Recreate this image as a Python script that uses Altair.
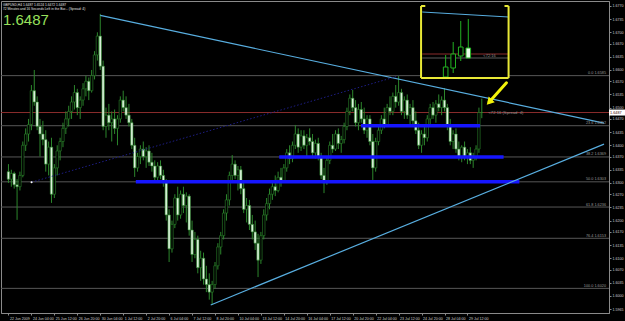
import json
import altair as alt
import pandas as pd

# ---------------- data (GBPUSD, H4) ----------------
OPEN = [
1.6330, 1.6310, 1.6325, 1.6295, 1.6290, 1.6320, 1.6400, 1.6430, 1.6455, 1.6545,
1.6515, 1.6450, 1.6430, 1.6415, 1.6350, 1.6395, 1.6270, 1.6340, 1.6385, 1.6410,
1.6445, 1.6470, 1.6490, 1.6515, 1.6540, 1.6500, 1.6520, 1.6550, 1.6570, 1.6545,
1.6585, 1.6640, 1.6690, 1.6610, 1.6450, 1.6480, 1.6460, 1.6470, 1.6445, 1.6470,
1.6520, 1.6500, 1.6480, 1.6460, 1.6400, 1.6340, 1.6370, 1.6390, 1.6370, 1.6385,
1.6355, 1.6345, 1.6315, 1.6345, 1.6320, 1.6300, 1.6215, 1.6125, 1.6190, 1.6260,
1.6215, 1.6270, 1.6240, 1.6265, 1.6175, 1.6110, 1.6150, 1.6075, 1.6100, 1.6045,
1.6030, 1.6010, 1.6030, 1.6080, 1.6130, 1.6160, 1.6220, 1.6255, 1.6320, 1.6350,
1.6320, 1.6335, 1.6285, 1.6230, 1.6240, 1.6190, 1.6170, 1.6140, 1.6095, 1.6160,
1.6215, 1.6245, 1.6270, 1.6290, 1.6280, 1.6315, 1.6305, 1.6340, 1.6380, 1.6365,
1.6400, 1.6430, 1.6395, 1.6425, 1.6400, 1.6420, 1.6410, 1.6380, 1.6405, 1.6370,
1.6320, 1.6300, 1.6360, 1.6400, 1.6390, 1.6430, 1.6405, 1.6415, 1.6450, 1.6490,
1.6525, 1.6500, 1.6460, 1.6495, 1.6470, 1.6440, 1.6470, 1.6410, 1.6340, 1.6410,
1.6440, 1.6470, 1.6455, 1.6500, 1.6490, 1.6530, 1.6515, 1.6540, 1.6490, 1.6520,
1.6480, 1.6500, 1.6465, 1.6440, 1.6400, 1.6430, 1.6420, 1.6470, 1.6500, 1.6480,
1.6510, 1.6500, 1.6520, 1.6500, 1.6450, 1.6410, 1.6430, 1.6390, 1.6370, 1.6395,
1.6370, 1.6380, 1.6360, 1.6370, 1.6390, 1.6487]

HIGH = [
1.6350, 1.6335, 1.6330, 1.6310, 1.6330, 1.6410, 1.6445, 1.6470, 1.6560, 1.6600,
1.6530, 1.6470, 1.6465, 1.6440, 1.6410, 1.6420, 1.6350, 1.6400, 1.6420, 1.6460,
1.6490, 1.6505, 1.6530, 1.6560, 1.6550, 1.6530, 1.6565, 1.6585, 1.6580, 1.6600,
1.6650, 1.6700, 1.6749, 1.6625, 1.6500, 1.6510, 1.6490, 1.6495, 1.6480, 1.6530,
1.6545, 1.6530, 1.6510, 1.6470, 1.6420, 1.6380, 1.6400, 1.6410, 1.6395, 1.6400,
1.6380, 1.6360, 1.6355, 1.6360, 1.6335, 1.6310, 1.6230, 1.6200, 1.6270, 1.6290,
1.6280, 1.6290, 1.6275, 1.6270, 1.6200, 1.6170, 1.6160, 1.6120, 1.6115, 1.6080,
1.6060, 1.6040, 1.6090, 1.6140, 1.6170, 1.6230, 1.6270, 1.6330, 1.6374, 1.6360,
1.6345, 1.6345, 1.6300, 1.6260, 1.6255, 1.6215, 1.6200, 1.6165, 1.6170, 1.6230,
1.6260, 1.6285, 1.6300, 1.6320, 1.6330, 1.6340, 1.6350, 1.6390, 1.6400, 1.6410,
1.6454, 1.6445, 1.6440, 1.6440, 1.6430, 1.6445, 1.6430, 1.6415, 1.6420, 1.6380,
1.6340, 1.6370, 1.6410, 1.6430, 1.6440, 1.6445, 1.6425, 1.6460, 1.6500, 1.6535,
1.6547, 1.6520, 1.6510, 1.6515, 1.6500, 1.6480, 1.6480, 1.6430, 1.6420, 1.6450,
1.6480, 1.6500, 1.6510, 1.6530, 1.6540, 1.6560, 1.6584, 1.6550, 1.6530, 1.6535,
1.6510, 1.6520, 1.6490, 1.6460, 1.6440, 1.6450, 1.6480, 1.6510, 1.6515, 1.6520,
1.6535, 1.6530, 1.6552, 1.6510, 1.6470, 1.6440, 1.6445, 1.6410, 1.6400, 1.6410,
1.6390, 1.6395, 1.6380, 1.6400, 1.6500, 1.6524]

LOW = [
1.6300, 1.6290, 1.6285, 1.6202, 1.6280, 1.6315, 1.6385, 1.6410, 1.6440, 1.6505,
1.6440, 1.6370, 1.6400, 1.6330, 1.6320, 1.6247, 1.6260, 1.6320, 1.6360, 1.6395,
1.6430, 1.6450, 1.6470, 1.6495, 1.6480, 1.6470, 1.6505, 1.6530, 1.6520, 1.6540,
1.6575, 1.6625, 1.6600, 1.6440, 1.6420, 1.6440, 1.6410, 1.6430, 1.6400, 1.6460,
1.6490, 1.6470, 1.6450, 1.6390, 1.6316, 1.6330, 1.6350, 1.6360, 1.6340, 1.6345,
1.6330, 1.6300, 1.6305, 1.6310, 1.6290, 1.6200, 1.6090, 1.6115, 1.6180, 1.6200,
1.6205, 1.6220, 1.6195, 1.6160, 1.6090, 1.6100, 1.6060, 1.6040, 1.6030, 1.6010,
1.5990, 1.5976, 1.6020, 1.6070, 1.6110, 1.6150, 1.6200, 1.6240, 1.6300, 1.6310,
1.6280, 1.6270, 1.6220, 1.6195, 1.6175, 1.6150, 1.6122, 1.6050, 1.6085, 1.6150,
1.6200, 1.6230, 1.6255, 1.6265, 1.6275, 1.6290, 1.6300, 1.6330, 1.6350, 1.6355,
1.6390, 1.6380, 1.6385, 1.6390, 1.6370, 1.6400, 1.6370, 1.6365, 1.6360, 1.6310,
1.6273, 1.6295, 1.6350, 1.6380, 1.6385, 1.6390, 1.6380, 1.6405, 1.6440, 1.6480,
1.6490, 1.6450, 1.6440, 1.6460, 1.6430, 1.6420, 1.6400, 1.6308, 1.6330, 1.6400,
1.6430, 1.6445, 1.6450, 1.6480, 1.6480, 1.6500, 1.6505, 1.6480, 1.6470, 1.6470,
1.6450, 1.6455, 1.6430, 1.6390, 1.6380, 1.6400, 1.6410, 1.6455, 1.6470, 1.6460,
1.6490, 1.6480, 1.6490, 1.6440, 1.6400, 1.6390, 1.6380, 1.6360, 1.6355, 1.6360,
1.6350, 1.6350, 1.6340, 1.6360, 1.6380, 1.6472]

CLOSE = [
1.6310, 1.6325, 1.6295, 1.6290, 1.6320, 1.6400, 1.6430, 1.6455, 1.6545, 1.6515,
1.6450, 1.6430, 1.6415, 1.6350, 1.6395, 1.6270, 1.6340, 1.6385, 1.6410, 1.6445,
1.6470, 1.6490, 1.6515, 1.6540, 1.6500, 1.6520, 1.6550, 1.6570, 1.6545, 1.6585,
1.6640, 1.6690, 1.6610, 1.6450, 1.6480, 1.6460, 1.6470, 1.6445, 1.6470, 1.6520,
1.6500, 1.6480, 1.6460, 1.6400, 1.6340, 1.6370, 1.6390, 1.6370, 1.6385, 1.6355,
1.6345, 1.6315, 1.6345, 1.6320, 1.6300, 1.6215, 1.6125, 1.6190, 1.6260, 1.6215,
1.6270, 1.6240, 1.6265, 1.6175, 1.6110, 1.6150, 1.6075, 1.6100, 1.6045, 1.6030,
1.6010, 1.6030, 1.6080, 1.6130, 1.6160, 1.6220, 1.6255, 1.6320, 1.6350, 1.6320,
1.6335, 1.6285, 1.6230, 1.6240, 1.6190, 1.6170, 1.6140, 1.6095, 1.6160, 1.6215,
1.6245, 1.6270, 1.6290, 1.6280, 1.6315, 1.6305, 1.6340, 1.6380, 1.6365, 1.6400,
1.6430, 1.6395, 1.6425, 1.6400, 1.6420, 1.6410, 1.6380, 1.6405, 1.6370, 1.6320,
1.6300, 1.6360, 1.6400, 1.6390, 1.6430, 1.6405, 1.6415, 1.6450, 1.6490, 1.6525,
1.6500, 1.6460, 1.6495, 1.6470, 1.6440, 1.6470, 1.6410, 1.6340, 1.6410, 1.6440,
1.6470, 1.6455, 1.6500, 1.6490, 1.6530, 1.6515, 1.6540, 1.6490, 1.6520, 1.6480,
1.6500, 1.6465, 1.6440, 1.6400, 1.6430, 1.6420, 1.6470, 1.6500, 1.6480, 1.6510,
1.6500, 1.6520, 1.6500, 1.6450, 1.6410, 1.6430, 1.6390, 1.6370, 1.6395, 1.6370,
1.6380, 1.6360, 1.6370, 1.6390, 1.6487, 1.6487]

TICK_BARS = [0, 8, 16, 24, 32, 40, 48, 56, 64, 72, 80, 88, 96, 104, 112, 120, 128, 136, 144, 152, 160]
DATE_LABELS = ["22 Jun 2009", "24 Jun 04:00", "25 Jun 12:00", "26 Jun 20:00", "30 Jun 04:00",
               "1 Jul 12:00", "2 Jul 20:00", "6 Jul 04:00", "7 Jul 12:00", "8 Jul 20:00",
               "10 Jul 04:00", "13 Jul 12:00", "14 Jul 20:00", "16 Jul 04:00", "17 Jul 12:00",
               "20 Jul 20:00", "22 Jul 04:00", "23 Jul 12:00", "24 Jul 20:00", "28 Jul 04:00",
               "29 Jul 12:00"]
PRICE_TICKS = [1.6770, 1.6735, 1.6700, 1.6670, 1.6635, 1.6600, 1.6570, 1.6535, 1.6500, 1.6470,
               1.6435, 1.6400, 1.6370, 1.6335, 1.6300, 1.6270, 1.6235, 1.6200, 1.6170, 1.6135,
               1.6100, 1.6070, 1.6035, 1.6000, 1.5965]

CURRENT = 1.6487
FIB_LEVELS = ["0.0", "23.6", "38.2", "50.0", "61.8", "76.4", "100.0"]
FIB_PRICES = [1.6585, 1.6452, 1.6369, 1.6303, 1.6236, 1.6153, 1.6020]

BLUE_FROM = [122.9, 94.4, 44.4]
BLUE_TO = [164.4, 172.6, 178.1]
BLUE_PRICE = [1.6452, 1.6369, 1.6303]

TREND_BAR1 = [32.0, 70.5]
TREND_P1 = [1.6745, 1.5976]
TREND_BAR2 = [207.6, 207.6]
TREND_P2 = [1.6459, 1.6403]

DOT_BAR = [8.06, 135.9]
DOT_P = [1.6302, 1.6584]

ARROW_BAR = [173.6, 167.6]
ARROW_P = [1.6566, 1.6515]

HEADER_1 = "GBPUSD,H4  1.6487 1.6524 1.6472 1.6487"
HEADER_2 = "72 Minutes and 16 Seconds Left in the Bar... (Spread: 4)"
SPREAD_TEXT = "<72:16 (Spread: 4)"

# inset (magnified view of the last bars)
INSET_BAR = [0, 1, 2, 3]
INSET_O = [1.6464, 1.6473, 1.6485, 1.6493]
INSET_H = [1.6486, 1.6499, 1.6520, 1.6522]
INSET_L = [1.6463, 1.6468, 1.6480, 1.6483]
INSET_C = [1.6474, 1.6487, 1.6494, 1.6483]

# ---------------- styling ----------------
GREEN = "#2c862c"
FONT = "Liberation Sans"
W, H = 608, 312
xs = alt.Scale(domain=[-0.857, 207.6], nice=False, zero=False)
ys = alt.Scale(domain=[1.59546, 1.67832], nice=False, zero=False)

AX = dict(labelColor="#d0d0d0", labelFont=FONT, labelFontSize=3.6, tickColor="#8a8a8a",
          domainColor="#8a8a8a", tickSize=2, labelPadding=1, grid=False, title=None,
          labelOverlap=False, labelFlush=False, labelBound=False)
xaxis = alt.Axis(values=TICK_BARS, labelExpr=json.dumps(DATE_LABELS) + "[round(datum.value / 8)]",
                 labelAlign="left", labelOffset=1, **AX)
yaxis = alt.Axis(orient="right", values=PRICE_TICKS, format=".4f", labelAlign="left",
                 labelBaseline="middle", **AX)


def X(f):
    return alt.X(f, type="quantitative", scale=xs, axis=xaxis)


def Y(f):
    return alt.Y(f, type="quantitative", scale=ys, axis=yaxis)


candles = pd.DataFrame({"bar": list(range(len(OPEN))), "o": OPEN, "h": HIGH, "l": LOW, "c": CLOSE})
fib_df = pd.DataFrame({"p": FIB_PRICES, "lvl": FIB_LEVELS})
fib_df["label"] = [f"{a}   {b:.4f}" for a, b in zip(FIB_LEVELS, FIB_PRICES)]
cur_df = pd.DataFrame({"p": [CURRENT], "t": [f"{CURRENT:.4f}"]})

fib_rules = alt.Chart(fib_df).mark_rule(color="#575757", strokeWidth=1).encode(y=Y("p"))
ask = alt.Chart(cur_df).mark_rule(color="#8b2c2c", strokeWidth=1).encode(y=Y("p"))

wicks = alt.Chart(candles).mark_rule(color=GREEN, strokeWidth=1).encode(
    x=X("bar"), y=Y("l"), y2="h")
bodies = alt.Chart(candles).mark_bar(size=2.4, stroke=GREEN, strokeWidth=0.6).encode(
    x=X("bar"), y=Y("o"), y2="c",
    fill=alt.condition("datum.c > datum.o", alt.value("#000000"), alt.value("#dcf2dc")))

blue = alt.Chart(pd.DataFrame({"a": BLUE_FROM, "b": BLUE_TO, "p": BLUE_PRICE})).mark_rule(
    color="#1616ff", strokeWidth=3.5).encode(x=X("a"), x2="b", y=Y("p"))

trend = alt.Chart(pd.DataFrame({"a": TREND_BAR1, "b": TREND_BAR2, "p1": TREND_P1, "p2": TREND_P2})).mark_rule(
    color="#58aee0", strokeWidth=1.2, clip=True).encode(x=X("a"), x2="b", y=Y("p1"), y2="p2")

dotted = alt.Chart(pd.DataFrame({"a": [DOT_BAR[0]], "b": [DOT_BAR[1]], "p1": [DOT_P[0]], "p2": [DOT_P[1]]})).mark_rule(
    color="#1e1e86", strokeWidth=1, strokeDash=[1.5, 2]).encode(x=X("a"), x2="b", y=Y("p1"), y2="p2")
dot = alt.Chart(pd.DataFrame({"a": [DOT_BAR[0]], "p": [DOT_P[0]]})).mark_point(
    filled=True, color="#ffffff", size=4, opacity=1).encode(x=X("a"), y=Y("p"))

fib_text = alt.Chart(fib_df).mark_text(align="right", baseline="bottom", dy=-0.5, fontSize=3.8,
                                       color="#9a9a9a", font=FONT).encode(
    y=Y("p"), x=alt.value(605), text="label:N")

spread = alt.Chart(pd.DataFrame({"a": [167.3], "p": [CURRENT], "t": [SPREAD_TEXT]})).mark_text(
    align="left", baseline="middle", fontSize=4.2, color="#8f8f8f", font=FONT).encode(
    x=X("a"), y=Y("p"), text="t:N")

arrow_line = alt.Chart(pd.DataFrame({"a": [ARROW_BAR[0]], "b": [ARROW_BAR[1]],
                                     "p1": [ARROW_P[0]], "p2": [ARROW_P[1]]})).mark_rule(
    color="#f2f20a", strokeWidth=3, strokeCap="round").encode(x=X("a"), x2="b", y=Y("p1"), y2="p2")
arrow_head = alt.Chart(pd.DataFrame({"a": [ARROW_BAR[1]], "p": [ARROW_P[1]]})).mark_point(
    shape="triangle-up", filled=True, size=70, angle=223, color="#f2f20a", opacity=1).encode(
    x=X("a"), y=Y("p"))

box_rule = alt.Chart(cur_df).mark_rule(color="#ffffff", strokeWidth=6).encode(
    y=Y("p"), x=alt.value(608), x2=alt.value(624))
box_text = alt.Chart(cur_df).mark_text(align="left", baseline="middle", fontSize=3.8, color="#3a0000",
                                       font=FONT).encode(y=Y("p"), x=alt.value(609), text="t:N")

head1 = alt.Chart(pd.DataFrame({"t": [HEADER_1]})).mark_text(
    align="left", baseline="middle", fontSize=3.3, color="#e0e0e0", font=FONT).encode(
    x=alt.value(2), y=alt.value(3.5), text="t:N")
head2 = alt.Chart(pd.DataFrame({"t": [HEADER_2]})).mark_text(
    align="left", baseline="middle", fontSize=3.3, color="#e0e0e0", font=FONT).encode(
    x=alt.value(2), y=alt.value(7.5), text="t:N")
big = alt.Chart(cur_df).mark_text(
    align="left", baseline="middle", fontSize=15,
    color="#98e05c", font="Liberation Sans Narrow, Liberation Sans, Arial").encode(
    x=alt.value(2), y=alt.value(19), text="t:N")

main = alt.layer(fib_rules, ask, wicks, bodies, blue, trend, dotted, dot, fib_text, spread,
                 arrow_line, arrow_head, box_rule, box_text, head1, head2, big)

# ---------------- inset ----------------
ixs = alt.Scale(domain=[-58.28, 20.99], nice=False, zero=False)
iys = alt.Scale(domain=[1.6228, 1.6540], nice=False, zero=False)


def IX(f):
    return alt.X(f, type="quantitative", scale=ixs, axis=None)


def IY(f):
    return alt.Y(f, type="quantitative", scale=iys, axis=None)


BOX_X = [-3.26, 8.34]
BOX_P = [1.6463, 1.6535]
inset_bg = alt.Chart(pd.DataFrame({"a": [BOX_X[0]], "b": [BOX_X[1]], "p1": [BOX_P[0]], "p2": [BOX_P[1]]})).mark_rect(
    color="#000000").encode(x=IX("a"), x2="b", y=IY("p1"), y2="p2")

ilines = pd.DataFrame({
    "a": [-3.1, -3.1, -3.1],
    "b": [8.34, 8.34, 8.34],
    "p1": [1.6529, 1.6487, 1.6483],
    "p2": [1.6524, 1.6487, 1.6483],
    "k": ["trend", "ask", "level"],
})
inset_lines = alt.Chart(ilines).mark_rule(strokeWidth=1).encode(
    x=IX("a"), x2="b", y=IY("p1"), y2="p2",
    color=alt.Color("k:N", scale=alt.Scale(domain=["trend", "ask", "level"],
                                           range=["#58aee0", "#8b2c2c", "#5c5c5c"]), legend=None))
icandles = pd.DataFrame({"bar": INSET_BAR, "o": INSET_O, "h": INSET_H, "l": INSET_L, "c": INSET_C})
inset_wicks = alt.Chart(icandles).mark_rule(color="#22b022", strokeWidth=1).encode(
    x=IX("bar"), y=IY("l"), y2="h")
inset_bodies = alt.Chart(icandles).mark_bar(size=4.6, stroke="#22b022", strokeWidth=1).encode(
    x=IX("bar"), y=IY("o"), y2="c",
    fill=alt.condition("datum.c > datum.o", alt.value("#000000"), alt.value("#eaffea")))
inset_text = alt.Chart(pd.DataFrame({"a": [5.0], "p": [1.6485], "t": ["<72:16"]})).mark_text(
    align="left", baseline="middle", fontSize=4, color="#8f8f8f", font=FONT).encode(
    x=IX("a"), y=IY("p"), text="t:N")

edges = pd.DataFrame({
    "a": [BOX_X[0], BOX_X[1], BOX_X[0], BOX_X[0], 7.8],
    "b": [BOX_X[0], BOX_X[1], BOX_X[1], -2.7, BOX_X[1]],
    "p1": [BOX_P[0], BOX_P[0], BOX_P[0], BOX_P[1], BOX_P[1]],
    "p2": [BOX_P[1], BOX_P[1], BOX_P[0], BOX_P[1], BOX_P[1]],
})
inset_edges = alt.Chart(edges).mark_rule(color="#e8e836", strokeWidth=2).encode(
    x=IX("a"), x2="b", y=IY("p1"), y2="p2")

inset = alt.layer(inset_bg, inset_lines, inset_wicks, inset_bodies, inset_text, inset_edges)

chart = alt.layer(main, inset).resolve_scale(x="independent", y="independent", color="independent").properties(
    width=W, height=H,
    padding={"left": 1, "top": 1, "right": 16, "bottom": 8},
    autosize=alt.AutoSizeParams(type="none"),
).configure(background="#000000").configure_view(stroke="#8a8a8a", strokeWidth=1)

chart.save("out.html", embed_options={"renderer": "svg", "actions": False})
